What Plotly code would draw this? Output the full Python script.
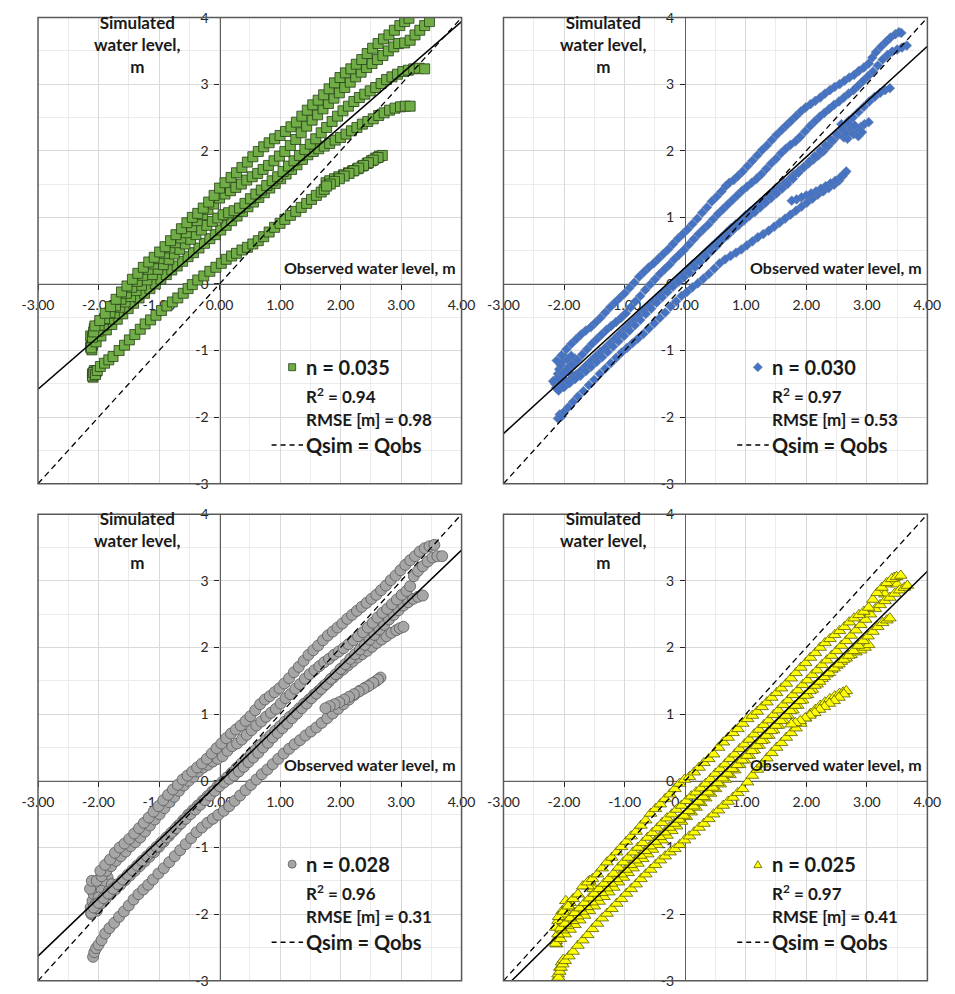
import plotly.graph_objects as go

# ---------------------------------------------------------------------------
# Axis ticks
# ---------------------------------------------------------------------------
TICK_VALUES = [-3, -2, -1, 0, 1, 2, 3, 4]
X_TICK_TEXT = ["-3.00", "-2.00", "-1.00", "0.00", "1.00", "2.00", "3.00", "4.00"]
Y_TICK_TEXT = ["-3", "-2", "-1", "0", "1", "2", "3", "4"]

# ---------------------------------------------------------------------------
# Run summaries (Manning's n, fit statistics, linear trend of sim vs obs)
# ---------------------------------------------------------------------------
MANNING_N = ["0.035", "0.030", "0.028", "0.025"]
R_SQUARED = ["0.94", "0.97", "0.96", "0.97"]
RMSE_M = ["0.98", "0.53", "0.31", "0.41"]
TREND_SLOPE = [0.789, 0.831, 0.870, 0.895]
TREND_INTERCEPT = [0.785, 0.246, -0.019, -0.435]

# ---------------------------------------------------------------------------
# Observed / simulated water levels (m), one list of (obs, sim) per event limb
# ---------------------------------------------------------------------------
# n = 0.035
N035_LOW = [(-2.10,-1.38),(-2.08,-1.33),(-2.05,-1.36),(-2.02,-1.30),(-1.97,-1.24),(-1.90,-1.19),(-1.83,-1.14),(-1.76,-1.09),(-1.66,-1.00),(-1.57,-0.92),(-1.49,-0.84),(-1.40,-0.76),(-1.31,-0.68),(-1.23,-0.60),(-1.14,-0.54),(-1.05,-0.47),(-0.96,-0.40),(-0.87,-0.33),(-0.78,-0.27),(-0.69,-0.21),(-0.60,-0.14),(-0.52,-0.07),(-0.45,-0.01),(-0.36,0.06),(-0.26,0.12),(-0.16,0.19),(-0.06,0.25),(0.03,0.31),(0.11,0.37),(0.20,0.42),(0.28,0.46),(0.37,0.51),(0.46,0.55),(0.55,0.60),(0.64,0.65),(0.73,0.71),(0.82,0.78),(0.91,0.85),(1.00,0.91),(1.08,0.97),(1.17,1.03),(1.26,1.09),(1.35,1.15),(1.44,1.21),(1.52,1.27),(1.60,1.33),(1.68,1.38),(1.73,1.42),(1.76,1.52),(1.82,1.55),(1.90,1.58),(1.97,1.61),(2.05,1.64),(2.13,1.67),(2.20,1.70),(2.28,1.73),(2.36,1.77),(2.44,1.81),(2.51,1.85),(2.58,1.89),(2.64,1.92),(2.69,1.93)]
N035_LOW_FALL = [(2.62,1.90),(2.54,1.86),(2.46,1.82),(2.38,1.78),(2.30,1.74),(2.22,1.70),(2.14,1.66),(2.06,1.62),(1.98,1.58),(1.90,1.54),(1.83,1.50),(1.77,1.47)]
N035_A = [(-2.06,-0.63),(-1.98,-0.55),(-1.89,-0.44),(-1.80,-0.34),(-1.71,-0.23),(-1.62,-0.12),(-1.53,-0.03),(-1.44,0.07),(-1.35,0.16),(-1.26,0.25),(-1.17,0.33),(-1.08,0.40),(-0.99,0.48),(-0.90,0.56),(-0.81,0.65),(-0.72,0.74),(-0.63,0.83),(-0.54,0.92),(-0.45,1.00),(-0.36,1.06),(-0.27,1.14),(-0.18,1.23),(-0.09,1.33),(0.00,1.44),(0.09,1.52),(0.19,1.60),(0.28,1.67),(0.37,1.75),(0.46,1.83),(0.55,1.91),(0.64,1.99),(0.73,2.06),(0.82,2.12),(0.91,2.18),(1.00,2.23),(1.09,2.29),(1.18,2.36),(1.27,2.43),(1.36,2.52),(1.45,2.61),(1.54,2.69),(1.63,2.76),(1.72,2.84),(1.81,2.93),(1.90,3.02),(1.99,3.10),(2.08,3.17),(2.17,3.23),(2.26,3.30),(2.35,3.37),(2.44,3.46),(2.53,3.54),(2.62,3.61),(2.71,3.68),(2.80,3.74),(2.89,3.81),(2.98,3.88),(3.06,3.94),(3.13,3.99)]
N035_B = [(-2.08,-0.72),(-1.99,-0.62),(-1.90,-0.52),(-1.81,-0.43),(-1.72,-0.33),(-1.63,-0.23),(-1.54,-0.14),(-1.45,-0.05),(-1.36,0.04),(-1.27,0.13),(-1.18,0.22),(-1.09,0.30),(-1.00,0.38),(-0.91,0.46),(-0.82,0.54),(-0.73,0.62),(-0.64,0.69),(-0.55,0.77),(-0.46,0.86),(-0.37,0.95),(-0.28,1.04),(-0.19,1.12),(-0.10,1.20),(0.00,1.29),(0.09,1.35),(0.18,1.40),(0.27,1.45),(0.36,1.50),(0.45,1.56),(0.54,1.61),(0.63,1.66),(0.72,1.72),(0.81,1.78),(0.90,1.85),(0.99,1.92),(1.08,1.99),(1.17,2.08),(1.26,2.17),(1.35,2.27),(1.44,2.37),(1.53,2.46),(1.62,2.54),(1.71,2.63),(1.80,2.71),(1.89,2.79),(1.98,2.87),(2.07,2.95),(2.16,3.03),(2.25,3.11),(2.34,3.18),(2.43,3.25),(2.52,3.31),(2.61,3.37),(2.70,3.43),(2.79,3.50),(2.88,3.56),(2.96,3.61),(3.06,3.62),(3.15,3.66),(3.23,3.74),(3.31,3.81),(3.39,3.88),(3.47,3.94)]
N035_C = [(-2.10,-0.80),(-2.01,-0.71),(-1.92,-0.62),(-1.83,-0.53),(-1.74,-0.44),(-1.65,-0.35),(-1.56,-0.27),(-1.47,-0.19),(-1.38,-0.10),(-1.29,-0.02),(-1.20,0.06),(-1.11,0.14),(-1.02,0.22),(-0.93,0.29),(-0.84,0.37),(-0.75,0.45),(-0.66,0.52),(-0.57,0.60),(-0.48,0.67),(-0.39,0.74),(-0.30,0.81),(-0.21,0.88),(-0.12,0.94),(-0.03,0.99),(0.06,1.04),(0.15,1.07),(0.24,1.10),(0.33,1.14),(0.42,1.21),(0.51,1.28),(0.60,1.35),(0.69,1.41),(0.78,1.48),(0.87,1.55),(0.96,1.61),(1.05,1.69),(1.14,1.77),(1.23,1.85),(1.32,1.93),(1.41,2.02),(1.50,2.10),(1.59,2.18),(1.68,2.27),(1.77,2.35),(1.86,2.44),(1.95,2.52),(2.04,2.60),(2.13,2.67),(2.22,2.74),(2.31,2.80),(2.40,2.85),(2.49,2.90),(2.58,2.95),(2.67,3.01),(2.76,3.07),(2.85,3.11),(2.94,3.15),(3.03,3.19),(3.12,3.21),(3.21,3.23),(3.30,3.24),(3.39,3.23)]
N035_D = [(-2.12,-0.96),(-2.04,-0.87),(-1.96,-0.78),(-1.87,-0.69),(-1.78,-0.61),(-1.69,-0.53),(-1.60,-0.45),(-1.51,-0.37),(-1.42,-0.29),(-1.33,-0.21),(-1.24,-0.14),(-1.15,-0.07),(-1.06,0.00),(-0.97,0.07),(-0.88,0.14),(-0.79,0.21),(-0.70,0.27),(-0.61,0.34),(-0.52,0.41),(-0.43,0.47),(-0.34,0.54),(-0.25,0.61),(-0.16,0.68),(-0.07,0.74),(0.02,0.81),(0.11,0.88),(0.20,0.95),(0.29,1.02),(0.38,1.09),(0.47,1.16),(0.56,1.23),(0.65,1.30),(0.74,1.37),(0.83,1.44),(0.92,1.51),(1.01,1.58),(1.10,1.65),(1.19,1.72),(1.28,1.79),(1.37,1.87),(1.46,1.94),(1.55,1.99),(1.64,2.03),(1.73,2.07),(1.82,2.11),(1.91,2.16),(2.00,2.20),(2.09,2.25),(2.18,2.30),(2.27,2.35),(2.36,2.40),(2.45,2.44),(2.54,2.48),(2.63,2.53),(2.72,2.57),(2.81,2.61),(2.90,2.64),(2.99,2.66),(3.07,2.67),(3.15,2.67)]
N035_START = [(-2.13,-0.95),(-2.12,-0.88),(-2.10,-0.84),(-2.08,-0.76),(-2.13,-0.78),(-2.06,-0.86),(-2.10,-0.92),(-2.04,-0.70),(-2.11,-0.99),(-2.07,-0.67),(-2.02,-0.78),(-2.00,-0.66),(-2.10,-1.35),(-2.07,-1.30),(-2.09,-1.40),(-2.04,-1.32)]

# n = 0.030
N030_LOW = [(-2.10,-2.02),(-2.07,-1.96),(-2.04,-1.99),(-2.00,-1.92),(-1.93,-1.85),(-1.85,-1.77),(-1.77,-1.69),(-1.68,-1.61),(-1.59,-1.52),(-1.50,-1.44),(-1.41,-1.35),(-1.32,-1.27),(-1.23,-1.19),(-1.14,-1.11),(-1.05,-1.03),(-0.96,-0.96),(-0.87,-0.89),(-0.78,-0.82),(-0.69,-0.75),(-0.60,-0.67),(-0.51,-0.59),(-0.42,-0.51),(-0.33,-0.43),(-0.24,-0.34),(-0.15,-0.26),(-0.06,-0.18),(0.03,-0.12),(0.12,-0.05),(0.21,0.01),(0.30,0.08),(0.39,0.15),(0.48,0.23),(0.57,0.31),(0.66,0.37),(0.75,0.42),(0.84,0.47),(0.93,0.52),(1.02,0.58),(1.11,0.64),(1.20,0.70),(1.29,0.75),(1.38,0.80),(1.47,0.86),(1.56,0.92),(1.65,0.98),(1.74,1.04),(1.83,1.10),(1.92,1.16),(2.01,1.22),(2.10,1.28),(2.19,1.34),(2.28,1.39),(2.37,1.44),(2.46,1.49),(2.54,1.55),(2.60,1.62),(2.66,1.69)]
N030_LOW_FALL = [(2.63,1.66),(2.56,1.60),(2.48,1.55),(2.40,1.51),(2.32,1.47),(2.24,1.43),(2.16,1.39),(2.08,1.36),(2.00,1.33),(1.92,1.30),(1.84,1.27),(1.76,1.25)]
N030_A = [(-2.12,-1.15),(-2.04,-1.07),(-1.96,-0.98),(-1.88,-0.90),(-1.80,-0.83),(-1.72,-0.76),(-1.64,-0.70),(-1.56,-0.65),(-1.48,-0.58),(-1.40,-0.51),(-1.32,-0.43),(-1.24,-0.35),(-1.16,-0.28),(-1.08,-0.21),(-1.00,-0.14),(-0.92,-0.06),(-0.84,0.02),(-0.76,0.11),(-0.68,0.18),(-0.60,0.25),(-0.52,0.31),(-0.44,0.38),(-0.36,0.45),(-0.28,0.52),(-0.20,0.60),(-0.12,0.68),(-0.04,0.75),(0.04,0.82),(0.12,0.90),(0.20,0.98),(0.28,1.07),(0.36,1.15),(0.44,1.24),(0.52,1.31),(0.60,1.39),(0.67,1.47),(0.73,1.52),(0.80,1.56),(0.87,1.62),(0.95,1.69),(1.03,1.77),(1.11,1.85),(1.19,1.93),(1.27,2.01),(1.35,2.08),(1.43,2.16),(1.51,2.24),(1.59,2.31),(1.67,2.38),(1.75,2.45),(1.83,2.52),(1.91,2.59),(1.99,2.65),(2.07,2.70),(2.15,2.75),(2.23,2.80),(2.31,2.86),(2.39,2.91),(2.47,2.96),(2.55,3.00),(2.63,3.05),(2.71,3.10),(2.79,3.14),(2.87,3.20),(2.95,3.25),(3.03,3.31),(3.09,3.40),(3.15,3.48),(3.23,3.56),(3.31,3.63),(3.39,3.70),(3.47,3.75),(3.53,3.78),(3.57,3.77)]
N030_B = [(-2.10,-1.42),(-2.02,-1.35),(-1.94,-1.28),(-1.86,-1.21),(-1.78,-1.14),(-1.70,-1.06),(-1.62,-0.98),(-1.54,-0.90),(-1.46,-0.83),(-1.38,-0.76),(-1.30,-0.69),(-1.22,-0.63),(-1.14,-0.57),(-1.06,-0.51),(-0.98,-0.44),(-0.90,-0.35),(-0.82,-0.26),(-0.74,-0.18),(-0.66,-0.09),(-0.58,-0.01),(-0.50,0.07),(-0.42,0.15),(-0.34,0.22),(-0.26,0.29),(-0.18,0.37),(-0.10,0.44),(-0.02,0.51),(0.06,0.59),(0.14,0.67),(0.22,0.75),(0.30,0.82),(0.38,0.89),(0.46,0.97),(0.54,1.05),(0.62,1.12),(0.70,1.19),(0.78,1.26),(0.86,1.33),(0.94,1.40),(1.02,1.46),(1.10,1.52),(1.18,1.58),(1.26,1.65),(1.34,1.73),(1.42,1.81),(1.50,1.88),(1.58,1.96),(1.66,2.03),(1.74,2.09),(1.82,2.14),(1.90,2.21),(1.98,2.29),(2.06,2.37),(2.14,2.44),(2.22,2.51),(2.30,2.57),(2.38,2.63),(2.46,2.69),(2.54,2.74),(2.62,2.80),(2.70,2.86),(2.78,2.91),(2.86,2.98),(2.94,3.05),(3.02,3.12),(3.10,3.19),(3.18,3.28),(3.26,3.37),(3.34,3.44),(3.42,3.49),(3.50,3.52),(3.58,3.55),(3.66,3.58)]
N030_C = [(-2.09,-1.60),(-2.00,-1.55),(-1.91,-1.49),(-1.82,-1.43),(-1.73,-1.38),(-1.64,-1.31),(-1.55,-1.24),(-1.46,-1.17),(-1.37,-1.10),(-1.28,-1.02),(-1.19,-0.94),(-1.10,-0.86),(-1.01,-0.78),(-0.92,-0.70),(-0.83,-0.62),(-0.74,-0.54),(-0.65,-0.45),(-0.56,-0.37),(-0.47,-0.28),(-0.38,-0.20),(-0.29,-0.12),(-0.20,-0.04),(-0.11,0.03),(-0.02,0.10),(0.07,0.17),(0.16,0.25),(0.25,0.33),(0.34,0.41),(0.43,0.49),(0.52,0.57),(0.61,0.66),(0.70,0.73),(0.79,0.81),(0.88,0.88),(0.97,0.95),(1.06,1.02),(1.15,1.08),(1.24,1.15),(1.33,1.22),(1.42,1.29),(1.51,1.36),(1.60,1.43),(1.69,1.50),(1.78,1.58),(1.87,1.67),(1.96,1.75),(2.05,1.84),(2.14,1.92),(2.23,2.00),(2.32,2.08),(2.41,2.16),(2.50,2.25),(2.59,2.33),(2.68,2.42),(2.77,2.50),(2.86,2.58),(2.95,2.66),(3.04,2.74),(3.13,2.81),(3.22,2.87),(3.30,2.91),(3.38,2.94)]
N030_D = [(-2.12,-1.56),(-2.04,-1.52),(-1.96,-1.47),(-1.88,-1.42),(-1.80,-1.36),(-1.72,-1.30),(-1.64,-1.23),(-1.56,-1.16),(-1.48,-1.09),(-1.40,-1.02),(-1.32,-0.96),(-1.24,-0.89),(-1.16,-0.82),(-1.08,-0.75),(-1.00,-0.68),(-0.92,-0.61),(-0.84,-0.54),(-0.76,-0.47),(-0.68,-0.40),(-0.60,-0.33),(-0.52,-0.26),(-0.44,-0.19),(-0.36,-0.12),(-0.28,-0.06),(-0.20,0.01),(-0.12,0.08),(-0.04,0.15),(0.04,0.22),(0.12,0.29),(0.20,0.35),(0.28,0.42),(0.36,0.49),(0.44,0.56),(0.52,0.63),(0.60,0.70),(0.68,0.77),(0.76,0.84),(0.84,0.90),(0.92,0.96),(1.00,1.03),(1.08,1.09),(1.16,1.15),(1.24,1.21),(1.32,1.28),(1.40,1.34),(1.48,1.39),(1.56,1.45),(1.64,1.51),(1.72,1.57),(1.80,1.64),(1.88,1.70),(1.96,1.76),(2.04,1.81),(2.12,1.87),(2.20,1.93),(2.28,1.99),(2.36,2.07),(2.44,2.15),(2.52,2.23),(2.60,2.31),(2.66,2.36),(2.72,2.28),(2.78,2.25),(2.84,2.30),(2.90,2.36),(2.96,2.40),(3.03,2.43)]
N030_PEAK = [(2.62,2.20),(2.68,2.18),(2.74,2.35),(2.80,2.38),(2.70,2.45),(2.86,2.22),(2.92,2.28),(2.58,2.40),(2.65,2.26)]
N030_START = [(-2.15,-1.50),(-2.12,-1.42),(-2.10,-1.35),(-2.08,-1.28),(-2.05,-1.22),(-2.02,-1.16),(-1.98,-1.10),(-1.94,-1.14),(-1.92,-1.24),(-1.90,-1.34),(-2.13,-1.56),(-2.18,-1.46),(-2.00,-1.44),(-1.86,-1.22),(-1.82,-1.12),(-2.05,-1.36),(-1.96,-1.30),(-2.08,-1.52),(-1.88,-1.08)]

# n = 0.028
N028_LOW = [(-2.09,-2.64),(-2.07,-2.57),(-2.04,-2.51),(-2.00,-2.46),(-1.95,-2.39),(-1.89,-2.29),(-1.82,-2.21),(-1.74,-2.13),(-1.66,-2.04),(-1.58,-1.96),(-1.50,-1.87),(-1.42,-1.78),(-1.34,-1.70),(-1.26,-1.63),(-1.18,-1.56),(-1.10,-1.48),(-1.01,-1.39),(-0.92,-1.31),(-0.83,-1.22),(-0.74,-1.13),(-0.65,-1.04),(-0.56,-0.95),(-0.47,-0.86),(-0.38,-0.77),(-0.29,-0.70),(-0.20,-0.63),(-0.11,-0.57),(-0.02,-0.51),(0.07,-0.45),(0.16,-0.38),(0.25,-0.30),(0.34,-0.22),(0.43,-0.14),(0.52,-0.06),(0.61,0.02),(0.70,0.10),(0.79,0.17),(0.88,0.25),(0.97,0.33),(1.06,0.41),(1.15,0.48),(1.24,0.55),(1.33,0.61),(1.42,0.68),(1.51,0.74),(1.60,0.80),(1.69,0.87),(1.78,0.94),(1.87,1.01),(1.96,1.08),(2.05,1.15),(2.14,1.22),(2.23,1.29),(2.32,1.35),(2.41,1.40),(2.50,1.45),(2.59,1.50),(2.66,1.55)]
N028_LOW_FALL = [(2.62,1.52),(2.54,1.47),(2.46,1.42),(2.38,1.38),(2.30,1.34),(2.22,1.30),(2.14,1.26),(2.06,1.22),(1.98,1.18),(1.90,1.15),(1.82,1.12),(1.75,1.09)]
N028_A = [(-1.97,-1.35),(-1.89,-1.26),(-1.81,-1.18),(-1.73,-1.08),(-1.65,-1.00),(-1.57,-0.94),(-1.49,-0.87),(-1.41,-0.79),(-1.33,-0.71),(-1.25,-0.63),(-1.17,-0.55),(-1.09,-0.46),(-1.01,-0.38),(-0.93,-0.29),(-0.85,-0.21),(-0.77,-0.13),(-0.69,-0.06),(-0.61,0.02),(-0.53,0.08),(-0.45,0.14),(-0.37,0.20),(-0.29,0.26),(-0.21,0.33),(-0.13,0.41),(-0.05,0.49),(0.03,0.56),(0.11,0.64),(0.19,0.71),(0.27,0.77),(0.35,0.83),(0.43,0.90),(0.51,0.97),(0.59,1.06),(0.67,1.15),(0.75,1.22),(0.83,1.27),(0.91,1.33),(0.99,1.39),(1.07,1.46),(1.15,1.54),(1.23,1.63),(1.31,1.71),(1.39,1.80),(1.47,1.89),(1.55,1.96),(1.63,2.03),(1.71,2.11),(1.79,2.18),(1.87,2.24),(1.95,2.30),(2.03,2.36),(2.11,2.43),(2.19,2.49),(2.27,2.55),(2.35,2.61),(2.43,2.67),(2.51,2.73),(2.59,2.79),(2.67,2.86),(2.75,2.93),(2.83,3.01),(2.91,3.08),(2.99,3.16),(3.07,3.24),(3.15,3.31),(3.23,3.37),(3.31,3.44),(3.39,3.49),(3.47,3.52),(3.55,3.54)]
N028_B = [(-2.03,-1.50),(-1.95,-1.43),(-1.87,-1.35),(-1.79,-1.28),(-1.71,-1.20),(-1.63,-1.13),(-1.55,-1.06),(-1.47,-0.98),(-1.39,-0.92),(-1.31,-0.85),(-1.23,-0.76),(-1.15,-0.67),(-1.07,-0.58),(-0.99,-0.50),(-0.91,-0.41),(-0.83,-0.32),(-0.75,-0.24),(-0.67,-0.15),(-0.59,-0.07),(-0.51,0.00),(-0.43,0.06),(-0.35,0.14),(-0.27,0.20),(-0.19,0.24),(-0.11,0.29),(-0.03,0.33),(0.05,0.37),(0.13,0.45),(0.21,0.52),(0.29,0.56),(0.37,0.62),(0.45,0.69),(0.53,0.76),(0.61,0.83),(0.69,0.89),(0.77,0.96),(0.85,1.02),(0.93,1.08),(1.01,1.16),(1.09,1.24),(1.17,1.30),(1.25,1.38),(1.33,1.45),(1.41,1.53),(1.49,1.60),(1.57,1.66),(1.65,1.72),(1.73,1.78),(1.81,1.83),(1.89,1.89),(1.97,1.94),(2.05,1.99),(2.13,2.05),(2.21,2.11),(2.29,2.17),(2.37,2.23),(2.45,2.30),(2.53,2.37),(2.61,2.45),(2.69,2.52),(2.77,2.58),(2.85,2.65),(2.93,2.72),(3.01,2.79),(3.09,2.85),(3.15,2.92),(3.21,3.07),(3.28,3.15),(3.36,3.22),(3.44,3.29),(3.52,3.35),(3.60,3.37),(3.68,3.37)]
N028_C = [(-2.08,-1.90),(-2.00,-1.83),(-1.92,-1.76),(-1.84,-1.69),(-1.76,-1.62),(-1.68,-1.55),(-1.60,-1.48),(-1.52,-1.41),(-1.44,-1.34),(-1.36,-1.27),(-1.28,-1.20),(-1.20,-1.13),(-1.12,-1.06),(-1.04,-0.99),(-0.96,-0.92),(-0.88,-0.85),(-0.80,-0.78),(-0.72,-0.71),(-0.64,-0.64),(-0.56,-0.57),(-0.48,-0.50),(-0.40,-0.43),(-0.32,-0.36),(-0.24,-0.29),(-0.16,-0.22),(-0.08,-0.15),(0.00,-0.08),(0.08,-0.02),(0.16,0.03),(0.24,0.08),(0.32,0.14),(0.40,0.21),(0.48,0.28),(0.56,0.35),(0.64,0.42),(0.72,0.50),(0.80,0.57),(0.88,0.65),(0.96,0.72),(1.04,0.79),(1.12,0.86),(1.20,0.94),(1.28,1.01),(1.36,1.09),(1.44,1.16),(1.52,1.24),(1.60,1.31),(1.68,1.38),(1.76,1.45),(1.84,1.53),(1.92,1.60),(2.00,1.68),(2.08,1.75),(2.16,1.83),(2.24,1.90),(2.32,1.97),(2.40,2.04),(2.48,2.12),(2.56,2.19),(2.64,2.27),(2.72,2.34),(2.80,2.42),(2.88,2.49),(2.96,2.56),(3.04,2.63),(3.12,2.68),(3.20,2.73),(3.28,2.76),(3.36,2.78)]
N028_D = [(-2.12,-1.98),(-2.04,-1.91),(-1.96,-1.84),(-1.88,-1.77),(-1.80,-1.70),(-1.72,-1.63),(-1.64,-1.56),(-1.56,-1.49),(-1.48,-1.42),(-1.40,-1.35),(-1.32,-1.28),(-1.24,-1.21),(-1.16,-1.14),(-1.08,-1.07),(-1.00,-0.99),(-0.92,-0.91),(-0.84,-0.83),(-0.76,-0.75),(-0.68,-0.67),(-0.60,-0.59),(-0.52,-0.51),(-0.44,-0.44),(-0.36,-0.37),(-0.28,-0.30),(-0.20,-0.23),(-0.12,-0.16),(-0.04,-0.09),(0.04,-0.02),(0.12,0.05),(0.20,0.12),(0.28,0.19),(0.36,0.26),(0.44,0.33),(0.52,0.40),(0.60,0.47),(0.68,0.54),(0.76,0.61),(0.84,0.68),(0.92,0.75),(1.00,0.82),(1.08,0.89),(1.16,0.96),(1.24,1.02),(1.32,1.09),(1.40,1.16),(1.48,1.22),(1.56,1.29),(1.64,1.35),(1.72,1.42),(1.80,1.48),(1.88,1.55),(1.96,1.61),(2.04,1.67),(2.12,1.73),(2.20,1.79),(2.28,1.85),(2.36,1.90),(2.44,1.95),(2.52,2.01),(2.60,2.07),(2.68,2.12),(2.76,2.17),(2.84,2.22),(2.92,2.26),(2.98,2.29),(3.04,2.31)]
N028_START = [(-2.13,-1.90),(-2.10,-1.80),(-2.08,-1.70),(-2.05,-1.62),(-2.02,-1.55),(-1.98,-1.48),(-1.95,-1.42),(-1.92,-1.38),(-1.88,-1.36),(-1.85,-1.45),(-1.90,-1.55),(-1.95,-1.65),(-2.00,-1.75),(-2.05,-1.85),(-2.10,-1.95),(-2.12,-2.00),(-2.03,-1.95),(-1.97,-1.85),(-1.90,-1.75),(-1.83,-1.65),(-1.78,-1.55),(-2.14,-1.62),(-2.11,-1.50)]

# n = 0.025
N025_LOW = [(-2.09,-2.95),(-2.07,-2.86),(-2.05,-2.80),(-2.02,-2.75),(-1.98,-2.70),(-1.92,-2.63),(-1.85,-2.56),(-1.77,-2.47),(-1.69,-2.39),(-1.61,-2.31),(-1.53,-2.22),(-1.45,-2.14),(-1.37,-2.06),(-1.29,-1.99),(-1.21,-1.92),(-1.13,-1.84),(-1.05,-1.77),(-0.97,-1.69),(-0.89,-1.62),(-0.81,-1.55),(-0.73,-1.47),(-0.65,-1.40),(-0.57,-1.33),(-0.49,-1.26),(-0.41,-1.19),(-0.33,-1.13),(-0.25,-1.07),(-0.17,-1.02),(-0.09,-0.96),(-0.01,-0.89),(0.07,-0.83),(0.15,-0.77),(0.23,-0.70),(0.31,-0.64),(0.39,-0.57),(0.47,-0.50),(0.55,-0.44),(0.63,-0.37),(0.71,-0.31),(0.79,-0.25),(0.87,-0.18),(0.95,-0.12),(1.03,-0.02),(1.11,0.08),(1.19,0.17),(1.27,0.25),(1.35,0.34),(1.43,0.42),(1.51,0.50),(1.59,0.57),(1.67,0.65),(1.75,0.72),(1.83,0.79),(1.91,0.86),(1.99,0.94),(2.07,1.01),(2.15,1.07),(2.23,1.13),(2.31,1.18),(2.39,1.23),(2.47,1.27),(2.55,1.31),(2.61,1.33),(2.66,1.35)]
N025_LOW_FALL = [(2.62,1.30),(2.54,1.25),(2.46,1.20),(2.38,1.16),(2.30,1.11),(2.22,1.07),(2.14,1.02),(2.06,0.98),(1.98,0.94),(1.90,0.90),(1.82,0.87),(1.75,0.85)]
N025_A = [(-2.09,-2.04),(-2.01,-1.96),(-1.93,-1.88),(-1.85,-1.77),(-1.77,-1.70),(-1.69,-1.58),(-1.61,-1.52),(-1.53,-1.47),(-1.45,-1.40),(-1.37,-1.31),(-1.29,-1.22),(-1.21,-1.15),(-1.13,-1.07),(-1.05,-0.99),(-0.97,-0.91),(-0.89,-0.83),(-0.81,-0.76),(-0.73,-0.67),(-0.65,-0.59),(-0.57,-0.49),(-0.49,-0.42),(-0.41,-0.35),(-0.33,-0.27),(-0.25,-0.20),(-0.17,-0.12),(-0.09,-0.04),(-0.01,0.02),(0.07,0.06),(0.15,0.13),(0.23,0.20),(0.31,0.27),(0.39,0.33),(0.47,0.40),(0.55,0.50),(0.63,0.58),(0.71,0.65),(0.79,0.72),(0.87,0.78),(0.95,0.86),(1.03,0.93),(1.11,0.98),(1.19,1.04),(1.27,1.11),(1.35,1.18),(1.43,1.25),(1.51,1.32),(1.59,1.39),(1.67,1.46),(1.75,1.54),(1.83,1.62),(1.91,1.70),(1.99,1.77),(2.07,1.85),(2.15,1.92),(2.23,2.00),(2.31,2.07),(2.39,2.13),(2.47,2.19),(2.55,2.25),(2.63,2.31),(2.71,2.38),(2.79,2.44),(2.87,2.49),(2.95,2.54),(3.03,2.60),(3.10,2.72),(3.17,2.82),(3.25,2.90),(3.33,2.97),(3.41,3.03),(3.49,3.06),(3.56,3.08)]
N025_B = [(-2.06,-2.21),(-1.98,-2.14),(-1.90,-2.06),(-1.82,-1.98),(-1.74,-1.91),(-1.66,-1.83),(-1.58,-1.76),(-1.50,-1.69),(-1.42,-1.62),(-1.34,-1.54),(-1.26,-1.47),(-1.18,-1.39),(-1.10,-1.30),(-1.02,-1.22),(-0.94,-1.15),(-0.86,-1.07),(-0.78,-1.00),(-0.70,-0.93),(-0.62,-0.85),(-0.54,-0.78),(-0.46,-0.71),(-0.38,-0.63),(-0.30,-0.56),(-0.22,-0.50),(-0.14,-0.43),(-0.06,-0.37),(0.02,-0.30),(0.10,-0.23),(0.18,-0.17),(0.26,-0.11),(0.34,-0.04),(0.42,0.03),(0.50,0.11),(0.58,0.18),(0.66,0.25),(0.74,0.33),(0.82,0.40),(0.90,0.48),(0.98,0.55),(1.06,0.62),(1.14,0.70),(1.22,0.77),(1.30,0.84),(1.38,0.91),(1.46,0.99),(1.54,1.06),(1.62,1.14),(1.70,1.21),(1.78,1.29),(1.86,1.36),(1.94,1.44),(2.02,1.51),(2.10,1.59),(2.18,1.66),(2.26,1.74),(2.34,1.81),(2.42,1.88),(2.50,1.95),(2.58,2.03),(2.66,2.10),(2.74,2.18),(2.82,2.26),(2.90,2.34),(2.98,2.42),(3.06,2.50),(3.14,2.58),(3.22,2.64),(3.30,2.70),(3.38,2.75),(3.46,2.81),(3.54,2.86),(3.62,2.90),(3.67,2.93)]
N025_C = [(-2.10,-2.30),(-2.02,-2.24),(-1.94,-2.17),(-1.86,-2.10),(-1.78,-2.03),(-1.70,-1.96),(-1.62,-1.89),(-1.54,-1.82),(-1.46,-1.75),(-1.38,-1.68),(-1.30,-1.61),(-1.22,-1.54),(-1.14,-1.47),(-1.06,-1.40),(-0.98,-1.33),(-0.90,-1.26),(-0.82,-1.19),(-0.74,-1.12),(-0.66,-1.05),(-0.58,-0.98),(-0.50,-0.91),(-0.42,-0.84),(-0.34,-0.77),(-0.26,-0.70),(-0.18,-0.64),(-0.10,-0.58),(-0.02,-0.52),(0.06,-0.45),(0.14,-0.38),(0.22,-0.31),(0.30,-0.24),(0.38,-0.17),(0.46,-0.10),(0.54,-0.03),(0.62,0.04),(0.70,0.11),(0.78,0.18),(0.86,0.24),(0.94,0.31),(1.02,0.38),(1.10,0.45),(1.18,0.53),(1.26,0.60),(1.34,0.68),(1.42,0.75),(1.50,0.83),(1.58,0.90),(1.66,0.98),(1.74,1.05),(1.82,1.13),(1.90,1.20),(1.98,1.28),(2.06,1.35),(2.14,1.43),(2.22,1.49),(2.30,1.56),(2.38,1.62),(2.46,1.69),(2.54,1.75),(2.62,1.82),(2.70,1.88),(2.78,1.95),(2.86,2.03),(2.94,2.10),(3.02,2.17),(3.10,2.24),(3.18,2.31),(3.26,2.37),(3.33,2.41),(3.38,2.44)]
N025_D = [(-2.14,-2.44),(-2.06,-2.37),(-1.98,-2.30),(-1.90,-2.23),(-1.82,-2.16),(-1.74,-2.09),(-1.66,-2.02),(-1.58,-1.95),(-1.50,-1.88),(-1.42,-1.81),(-1.34,-1.74),(-1.26,-1.67),(-1.18,-1.60),(-1.10,-1.52),(-1.02,-1.45),(-0.94,-1.38),(-0.86,-1.31),(-0.78,-1.24),(-0.70,-1.17),(-0.62,-1.10),(-0.54,-1.03),(-0.46,-0.96),(-0.38,-0.89),(-0.30,-0.82),(-0.22,-0.75),(-0.14,-0.68),(-0.06,-0.61),(0.02,-0.54),(0.10,-0.47),(0.18,-0.40),(0.26,-0.33),(0.34,-0.26),(0.42,-0.19),(0.50,-0.12),(0.58,-0.05),(0.66,0.02),(0.74,0.09),(0.82,0.16),(0.90,0.24),(0.98,0.31),(1.06,0.38),(1.14,0.46),(1.22,0.53),(1.30,0.61),(1.38,0.68),(1.46,0.76),(1.54,0.83),(1.62,0.91),(1.70,0.98),(1.78,1.06),(1.86,1.13),(1.94,1.21),(2.02,1.29),(2.10,1.37),(2.18,1.45),(2.26,1.53),(2.34,1.60),(2.42,1.67),(2.50,1.73),(2.58,1.79),(2.66,1.84),(2.74,1.89),(2.82,1.93),(2.90,1.96),(2.97,2.00),(3.03,2.04)]
N025_PEAK = [(3.25,2.85),(3.32,2.95),(3.40,2.98),(3.45,3.05),(3.30,2.80),(3.50,2.95),(-1.58,-1.50),(-1.55,-1.55),(-1.52,-1.62),(-1.60,-1.58)]
N025_START = [(-2.12,-2.45),(-2.10,-2.35),(-2.08,-2.28),(-2.05,-2.20),(-2.02,-2.12),(-1.98,-2.05),(-1.95,-1.98),(-1.92,-1.90),(-1.90,-1.83),(-1.97,-1.80),(-2.03,-1.95),(-2.10,-2.10),(-2.14,-2.20),(-2.13,-2.40),(-1.94,-1.86),(-2.00,-2.00),(-2.12,-2.97),(-2.10,-2.90),(-2.07,-2.80),(-2.04,-2.72),(-2.01,-2.68)]

RUNS = [
    [N035_START, N035_LOW, N035_LOW_FALL, N035_D, N035_C, N035_B, N035_A],
    [N030_START, N030_LOW, N030_LOW_FALL, N030_D, N030_PEAK, N030_C, N030_B, N030_A],
    [N028_START, N028_LOW, N028_LOW_FALL, N028_D, N028_C, N028_B, N028_A],
    [N025_START, N025_LOW, N025_LOW_FALL, N025_D, N025_C, N025_PEAK, N025_B, N025_A],
]

# ---------------------------------------------------------------------------
# Styling
# ---------------------------------------------------------------------------
FONT = "Lato"
TEXT_COLOR = "#1a1a1a"
AXIS_COLOR = "#5f5f5f"

MARKERS = [
    dict(symbol="square", size=10, color="#70AD47", line=dict(color="#263f16", width=0.8)),
    dict(symbol="diamond", size=7.5, color="#4472C4", line=dict(color="#6b7f9f", width=0.6)),
    dict(symbol="circle", size=11, color="#A6A6A6", line=dict(color="#5a5a5a", width=0.8)),
    dict(symbol="triangle-up", size=11, color="#FFFF00", line=dict(color="#5c5c00", width=0.8)),
]

X_DOMAINS = [(0.0238, 0.4817), (0.5270, 0.9853)]
Y_DOMAINS = [(0.5141, 0.9912), (0.0053, 0.4829)]
ZERO_FRAC = 3.0 / 7.0  # position of the 0 value inside the [-3, 4] range

fig = go.Figure()

for i, run in enumerate(RUNS):
    row, col = divmod(i, 2)
    suffix = "" if i == 0 else str(i + 1)
    xref, yref = "x" + suffix, "y" + suffix
    xd, yd = X_DOMAINS[col], Y_DOMAINS[row]

    obs = [p[0] for limb in run for p in limb]
    sim = [p[1] for limb in run for p in limb]

    fig.add_trace(go.Scatter(
        x=obs, y=sim, mode="markers", marker=MARKERS[i],
        xaxis=xref, yaxis=yref, showlegend=False, hoverinfo="x+y",
    ))

    # 1:1 reference line
    fig.add_trace(go.Scatter(
        x=[TICK_VALUES[0], TICK_VALUES[-1]], y=[TICK_VALUES[0], TICK_VALUES[-1]],
        mode="lines", line=dict(color="#000000", width=1.3, dash="6px,4px"),
        xaxis=xref, yaxis=yref, showlegend=False, hoverinfo="skip",
    ))

    # linear trend line
    xs = [TICK_VALUES[0], TICK_VALUES[-1]]
    ys = [TREND_SLOPE[i] * v + TREND_INTERCEPT[i] for v in xs]
    fig.add_trace(go.Scatter(
        x=xs, y=ys, mode="lines", line=dict(color="#000000", width=1.5),
        xaxis=xref, yaxis=yref, showlegend=False, hoverinfo="skip",
    ))

    common = dict(
        range=[-3, 4], showline=True, linecolor=AXIS_COLOR, linewidth=1.4,
        ticks="outside", ticklen=5, tickwidth=1.2, tickcolor="#262626",
        tickmode="array", tickvals=TICK_VALUES,
        tickfont=dict(family=FONT, size=14, color="#262626"),
        showgrid=True, gridcolor="#d9d9d9", gridwidth=1,
        minor=dict(tickmode="linear", tick0=-3, dtick=0.5, showgrid=True,
                   gridcolor="#ebebeb", gridwidth=1),
        zeroline=False, layer="below traces", fixedrange=True,
    )
    fig.layout["xaxis" + suffix] = dict(
        common, domain=list(xd), anchor="free",
        position=yd[0] + ZERO_FRAC * (yd[1] - yd[0]),
        ticktext=X_TICK_TEXT, ticklabelstandoff=3,
    )
    fig.layout["yaxis" + suffix] = dict(
        common, domain=list(yd), anchor="free",
        position=xd[0] + ZERO_FRAC * (xd[1] - xd[0]),
        ticktext=Y_TICK_TEXT, ticklabelstandoff=3,
    )

    # plot-area frame
    fig.add_shape(type="rect", xref=xref + " domain", yref=yref + " domain",
                  x0=0, x1=1, y0=0, y1=1, line=dict(color="#595959", width=1.5))

    # axis titles
    fig.add_annotation(
        xref=xref, yref=yref, x=-1.35, y=3.6, showarrow=False, align="center",
        text="<b>Simulated<br>water level,<br>m</b>",
        font=dict(family=FONT, size=17, color=TEXT_COLOR),
    )
    fig.add_annotation(
        xref=xref, yref=yref, x=1.04, y=0.24, xanchor="left", showarrow=False,
        text="<b>Observed water level, m</b>",
        font=dict(family=FONT, size=16, color=TEXT_COLOR),
    )

    # key: marker swatch + run label, fit statistics, 1:1 line swatch
    m = MARKERS[i]
    sw = dict(xref=xref, yref=yref, xsizemode="pixel", ysizemode="pixel",
              xanchor=1.2, yanchor=-1.25, fillcolor=m["color"],
              line=dict(color=m["line"]["color"], width=0.8))
    if m["symbol"] == "square":
        fig.add_shape(type="rect", x0=-3.5, x1=3.5, y0=-3.5, y1=3.5, **sw)
    elif m["symbol"] == "circle":
        fig.add_shape(type="circle", x0=-4, x1=4, y0=-4, y1=4, **sw)
    elif m["symbol"] == "diamond":
        fig.add_shape(type="path", path="M0,4.5 L4.5,0 L0,-4.5 L-4.5,0 Z", **sw)
    else:
        fig.add_shape(type="path", path="M-4,-3.5 L4,-3.5 L0,3.5 Z", **sw)

    fig.add_shape(type="line", xref=xref, yref=yref, x0=0.86, x1=1.38, y0=-2.42, y1=-2.42,
                  line=dict(color="#000000", width=1.5, dash="5px,4px"))

    key_rows = [
        (-1.25, 20, "<b>n = %s</b>" % MANNING_N[i]),
        (-1.67, 17, "<b>R<sup>2</sup> = %s</b>" % R_SQUARED[i]),
        (-2.03, 17, "<b>RMSE [m] = %s</b>" % RMSE_M[i]),
        (-2.42, 20, "<b>Qsim = Qobs</b>"),
    ]
    for yv, size, txt in key_rows:
        fig.add_annotation(
            xref=xref, yref=yref, x=1.40, y=yv, xanchor="left", yanchor="middle",
            showarrow=False, text=txt,
            font=dict(family=FONT, size=size, color=TEXT_COLOR),
        )

fig.update_layout(
    width=955, height=994,
    margin=dict(l=0, r=0, t=0, b=0),
    paper_bgcolor="#ffffff", plot_bgcolor="#ffffff",
    showlegend=False,
    font=dict(family=FONT, color=TEXT_COLOR),
)

fig.write_html("out.html")
